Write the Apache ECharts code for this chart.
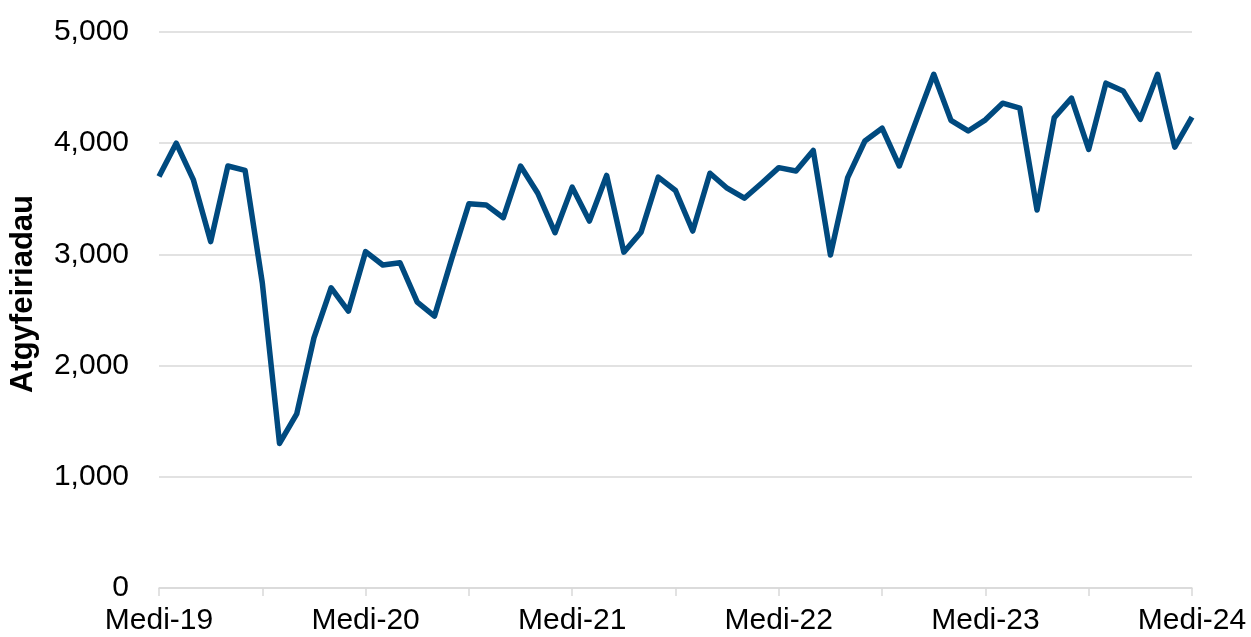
<!DOCTYPE html>
<html>
<head>
<meta charset="utf-8">
<title>Atgyfeiriadau</title>
<script src="https://cdn.jsdelivr.net/npm/echarts@6.0.0/dist/echarts.min.js"></script>
<style>
	html, body { margin: 0; padding: 0; background: #fff; }
	#lineChart { width: 1251px; height: 637px; }
</style>
</head>
<body>
<div id="lineChart"></div>
<script>
// month names, starting with Medi (September)
const months = ['Medi', 'Hyd', 'Tach', 'Rhag', 'Ion', 'Chwef', 'Maw', 'Ebr', 'Mai', 'Meh', 'Gorff', 'Awst']
const years = ['19', '20', '21', '22', '23', '24']

// monthly referrals, Medi-19 to Medi-24
const referrals = [
	3700, 4000, 3670, 3115, 3795, 3755, 2745, 1300, 1565, 2250, 2700, 2490,
	3025, 2905, 2925, 2570, 2445, 2960, 3455, 3445, 3330, 3795, 3550, 3195,
	3605, 3300, 3710, 3020, 3200, 3695, 3575, 3210, 3730, 3595, 3505, 3640,
	3780, 3750, 3935, 2995, 3690, 4020, 4135, 3795, 4210, 4620, 4205, 4110,
	4210, 4360, 4315, 3400, 4230, 4405, 3945, 4540, 4470, 4215, 4620, 3965,
	4235,
]

const yTicks = [0, 1000, 2000, 3000, 4000, 5000]

lineChart = () => {
	var chart = echarts.init(document.getElementById('lineChart'))

	// build the category labels, e.g. Medi-19, Hyd-19 ... Medi-24
	const categories = referrals.map((v, i) => {
		const month = months[i % 12]
		// Medi..Rhag belong to the first year, Ion onward to the next
		const year = i % 12 < 4 ? years[Math.floor(i / 12)] : years[Math.floor(i / 12) + 1]
		return `${month}-${year}`
	})

	const option = {
		animation: false,
		textStyle: { fontFamily: 'Liberation Sans, Arial, sans-serif' },
		grid: {
			left: 159,
			right: 59,
			top: 32,
			bottom: 49,
			outerBoundsMode: 'none',
		},
		xAxis: {
			type: 'category',
			data: categories,
			boundaryGap: false,
			axisLine: {
				show: true,
				lineStyle: { color: '#d9d9d9', width: 1.5 },
			},
			axisTick: {
				show: true,
				interval: 5,
				length: 8,
				lineStyle: { color: '#d9d9d9', width: 1.5 },
			},
			axisLabel: {
				interval: 11,
				margin: 18,
				fontSize: 30,
				color: '#000',
			},
			splitLine: { show: false },
		},
		yAxis: {
			type: 'value',
			min: yTicks[0],
			max: yTicks[yTicks.length - 1],
			interval: 1000,
			name: 'Atgyfeiriadau',
			nameLocation: 'middle',
			nameGap: 120,
			nameRotate: 90,
			nameTextStyle: {
				fontSize: 31,
				fontWeight: 'bold',
				color: '#000',
				padding: [0, 0, 0, 32],
			},
			axisLine: { show: false },
			axisTick: { show: false },
			axisLabel: {
				margin: 30,
				fontSize: 30,
				color: '#000',
				formatter: (v) => v.toLocaleString('en-US'),
			},
			splitLine: {
				lineStyle: { color: '#d9d9d9', width: 1.5 },
			},
		},
		series: [
			{
				type: 'line',
				data: referrals,
				showSymbol: false,
				lineStyle: { color: '#004a7f', width: 5.5, join: 'round' },
				itemStyle: { color: '#004a7f' },
			},
		],
	}

	chart.setOption(option)
}

lineChart()
</script>
</body>
</html>
